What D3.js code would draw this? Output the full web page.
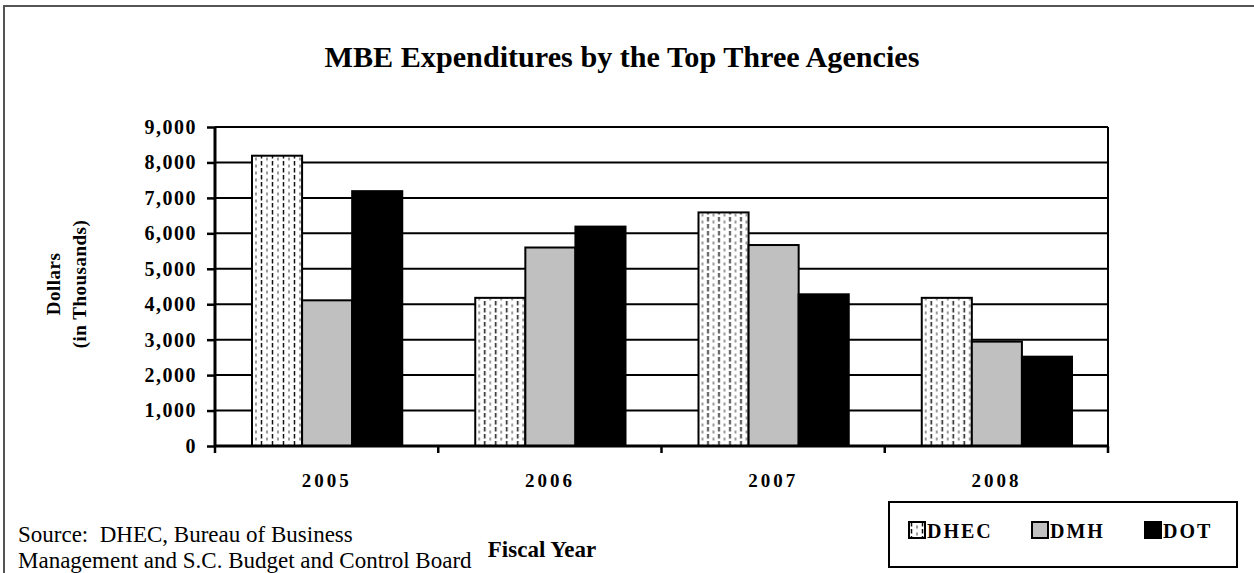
<!DOCTYPE html>
<html>
<head>
<meta charset="utf-8">
<script src="https://cdn.jsdelivr.net/npm/d3@7"></script>
<style>
  html, body { margin: 0; padding: 0; background: #fff; }
  svg { display: block; }
  text { font-family: "Liberation Serif", "Times New Roman", serif; fill: #000; }
</style>
</head>
<body>
<svg id="chart" width="1254" height="573"></svg>
<script>
// Fiscal years and the three agencies compared
const categories = ["2005", "2006", "2007", "2008"];
const agencies = ["DHEC", "DMH", "DOT"];

// MBE expenditures, dollars in thousands
const dhecValues = [8190, 4180, 6590, 4180];
const dmhValues  = [4110, 5600, 5670, 2945];
const dotValues  = [7190, 6190, 4280, 2520];

const yTickValues = [0, 1000, 2000, 3000, 4000, 5000, 6000, 7000, 8000, 9000];

const seriesByAgency = { DHEC: dhecValues, DMH: dmhValues, DOT: dotValues };

const svg = d3.select("#chart");
const defs = svg.append("defs");

// dashed vertical hatch used for DHEC
const pat = defs.append("pattern")
  .attr("id", "dashVert")
  .attr("patternUnits", "userSpaceOnUse")
  .attr("width", 11).attr("height", 7);
pat.append("rect").attr("width", 11).attr("height", 7).attr("fill", "#fff");
pat.append("line").attr("x1", 2.5).attr("x2", 2.5).attr("y1", 0).attr("y2", 4.5)
  .attr("stroke", "#111").attr("stroke-width", 1.5);
pat.append("line").attr("x1", 8).attr("x2", 8).attr("y1", 3.5).attr("y2", 6.5)
  .attr("stroke", "#555").attr("stroke-width", 1.2);

const fills = { DHEC: "url(#dashVert)", DMH: "#c0c0c0", DOT: "#000" };

// outer figure frame (runs past the right and bottom edges)
svg.append("rect")
  .attr("x", 4).attr("y", 6).attr("width", 1300).attr("height", 600)
  .attr("fill", "none").attr("stroke", "#555").attr("stroke-width", 2);

const plot = { left: 215, right: 1108, top: 127, bottom: 446 };

const x = d3.scaleBand().domain(categories).range([plot.left, plot.right]).padding(0);
const xInner = d3.scaleBand().domain(agencies)
  .range([37, x.bandwidth() - 36]).padding(0);
const y = d3.scaleLinear().domain([0, 9000]).range([plot.bottom, plot.top]);

// horizontal gridlines
svg.append("g").selectAll("line")
  .data(yTickValues.filter(d => d > 0))
  .join("line")
  .attr("x1", plot.left).attr("x2", plot.right)
  .attr("y1", d => y(d)).attr("y2", d => y(d))
  .attr("stroke", "#000").attr("stroke-width", 2);

// right border of the plot area
svg.append("line")
  .attr("x1", plot.right).attr("x2", plot.right)
  .attr("y1", plot.top).attr("y2", plot.bottom)
  .attr("stroke", "#000").attr("stroke-width", 2);

// bars
const groups = svg.append("g").selectAll("g")
  .data(categories)
  .join("g")
  .attr("transform", d => `translate(${x(d)},0)`);

groups.selectAll("rect")
  .data((c, i) => agencies.map(a => ({ agency: a, value: seriesByAgency[a][i] })))
  .join("rect")
  .attr("x", d => xInner(d.agency))
  .attr("width", xInner.bandwidth())
  .attr("y", d => y(d.value))
  .attr("height", d => y(0) - y(d.value))
  .attr("fill", d => fills[d.agency])
  .attr("stroke", "#000").attr("stroke-width", 2);

// y axis
const yAxis = svg.append("g")
  .attr("transform", `translate(${plot.left},0)`)
  .call(d3.axisLeft(y).tickValues(yTickValues).tickSize(8).tickPadding(10)
    .tickFormat(d3.format(",")));
yAxis.select(".domain").attr("stroke", "#000").attr("stroke-width", 3)
  .attr("d", `M0,${plot.top}V${plot.bottom + 1}`);
yAxis.selectAll(".tick line").attr("stroke", "#000").attr("stroke-width", 2.5);
yAxis.selectAll(".tick text")
  .attr("font-family", "Liberation Serif")
  .attr("font-weight", "bold").attr("font-size", 20)
  .attr("letter-spacing", 1.5).attr("fill", "#000");

// x axis: baseline, boundary ticks and year labels
const xAxis = svg.append("g")
  .attr("transform", `translate(0,${plot.bottom})`)
  .call(d3.axisBottom(x).tickSize(0).tickPadding(28));
xAxis.select(".domain").attr("stroke", "#000").attr("stroke-width", 3)
  .attr("d", `M${plot.left - 1},0H${plot.right + 1}`);
xAxis.selectAll(".tick text")
  .attr("font-family", "Liberation Serif")
  .attr("font-weight", "bold").attr("font-size", 19)
  .attr("letter-spacing", 3).attr("fill", "#000");

const boundaries = categories.map(c => x(c)).concat([x(categories[categories.length - 1]) + x.bandwidth()]);
xAxis.append("g").selectAll("line")
  .data(boundaries)
  .join("line")
  .attr("x1", d => d).attr("x2", d => d)
  .attr("y1", 0).attr("y2", 7)
  .attr("stroke", "#000").attr("stroke-width", 2.5);

// title
svg.append("text")
  .attr("x", 622).attr("y", 67)
  .attr("text-anchor", "middle")
  .attr("font-weight", "bold").attr("font-size", 29)
  .attr("textLength", 595).attr("lengthAdjust", "spacingAndGlyphs")
  .text("MBE Expenditures by the Top Three Agencies");

// y axis title (two rotated lines)
const yTitle = svg.append("text")
  .attr("transform", "translate(60,284) rotate(-90)")
  .attr("text-anchor", "middle")
  .attr("font-weight", "bold").attr("font-size", 19);
yTitle.append("tspan").attr("x", 0).attr("dy", 0).attr("letter-spacing", 0.5).text("Dollars");
yTitle.append("tspan").attr("x", 0).attr("dy", 26).attr("letter-spacing", 0.5).text("(in Thousands)");

// x axis title
svg.append("text")
  .attr("x", 542).attr("y", 557)
  .attr("text-anchor", "middle")
  .attr("font-weight", "bold").attr("font-size", 23)
  .text("Fiscal Year");

// source note
const src = svg.append("text").attr("font-size", 23).style("white-space", "pre");
src.append("tspan").attr("x", 18).attr("y", 542).text("Source:  DHEC, Bureau of Business");
src.append("tspan").attr("x", 18).attr("y", 568).text("Management and S.C. Budget and Control Board");

// legend
svg.append("rect")
  .attr("x", 889).attr("y", 502).attr("width", 348).attr("height", 65)
  .attr("fill", "#fff").attr("stroke", "#000").attr("stroke-width", 2);

const legendX = d3.scaleOrdinal().domain(agencies).range([909, 1032, 1145]);
const legendItems = svg.append("g").selectAll("g")
  .data(agencies)
  .join("g")
  .attr("transform", d => `translate(${legendX(d)},522)`);
legendItems.append("rect")
  .attr("width", 16).attr("height", 16)
  .attr("fill", d => fills[d])
  .attr("stroke", "#000").attr("stroke-width", 2);
legendItems.append("text")
  .attr("x", 18).attr("y", 16)
  .attr("font-weight", "bold").attr("font-size", 20)
  .attr("letter-spacing", 2)
  .text(d => d);
</script>
</body>
</html>
